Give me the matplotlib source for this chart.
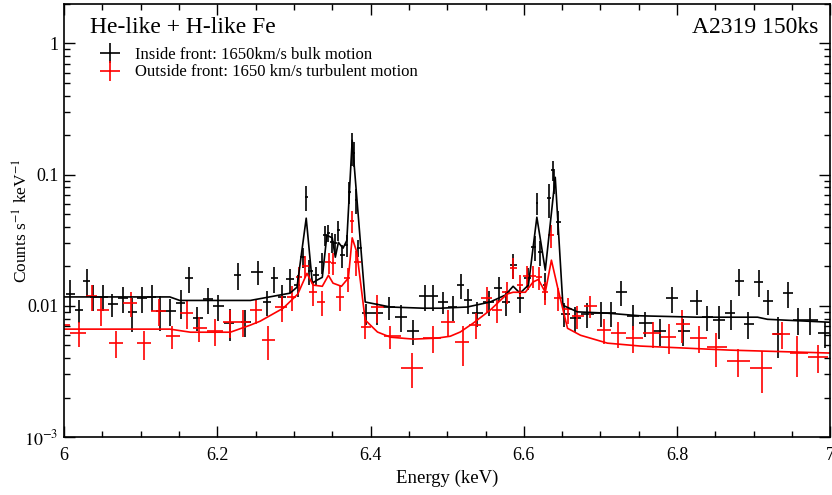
"""He-like + H-like Fe spectrum of A2319: two regions with models."""

import numpy as np
import matplotlib
matplotlib.use('Agg')
import matplotlib.pyplot as plt
from matplotlib.lines import Line2D
from matplotlib.ticker import MultipleLocator, LogLocator, NullFormatter

# Inside front (black) data: energy (keV), counts s^-1 keV^-1, 1-sigma error
in_energy = [6.008, 6.020, 6.030, 6.038, 6.051, 6.063, 6.077, 6.089, 6.102, 6.115,
             6.125, 6.138, 6.153, 6.163, 6.174, 6.188, 6.201, 6.217, 6.227, 6.236,
             6.253, 6.265, 6.274, 6.285, 6.295, 6.305, 6.312, 6.316, 6.320, 6.329,
             6.336, 6.341, 6.345, 6.350, 6.354, 6.358, 6.363, 6.369, 6.372, 6.376,
             6.379, 6.381, 6.384, 6.394, 6.409, 6.424, 6.440, 6.456, 6.471, 6.482,
             6.495, 6.508, 6.518, 6.527, 6.539, 6.555, 6.567, 6.577, 6.586, 6.595,
             6.606, 6.614, 6.617, 6.621, 6.628, 6.633, 6.638, 6.640, 6.644, 6.653,
             6.667, 6.683, 6.701, 6.714, 6.727, 6.742, 6.758, 6.778, 6.794, 6.808,
             6.826, 6.839, 6.855, 6.871, 6.881, 6.893, 6.907, 6.918, 6.932, 6.945,
             6.958, 6.974, 6.993]
in_rate = [0.0123, 0.00926, 0.0154, 0.0117, 0.0117, 0.0103, 0.0114, 0.00895, 0.0114, 0.0117,
           0.0091, 0.0091, 0.0105, 0.0162, 0.00808, 0.0112, 0.00992, 0.00741, 0.0171, 0.00753,
           0.0181, 0.0107, 0.0162, 0.0117, 0.0159, 0.0144, 0.0235, 0.0673, 0.0184, 0.0171,
           0.0215, 0.0345, 0.0358, 0.0306, 0.0300, 0.0377, 0.0243, 0.0290, 0.0734, 0.1617,
           0.1455, 0.0638, 0.0275, 0.0088, 0.0088, 0.00976, 0.00822, 0.00642, 0.0118, 0.0118,
           0.0107, 0.00976, 0.0144, 0.0110, 0.0088, 0.0107, 0.0136, 0.0107, 0.0204, 0.0114,
           0.0162, 0.0280, 0.0605, 0.0256, 0.0144, 0.0661, 0.1080, 0.0907, 0.0434, 0.00865,
           0.00808, 0.00865, 0.0088, 0.0088, 0.0127, 0.00836, 0.00741, 0.00642, 0.0114, 0.00642,
           0.0109, 0.00822, 0.00779, 0.0088, 0.0154, 0.00728, 0.0152, 0.0109, 0.00609, 0.0125,
           0.00779, 0.00779, 0.00619]
in_err = [0.0035, 0.0019, 0.0037, 0.0026, 0.0026, 0.0021, 0.0025, 0.0026, 0.0025, 0.0026,
          0.0027, 0.0021, 0.0026, 0.0036, 0.0017, 0.0025, 0.0022, 0.0020, 0.0040, 0.0017,
          0.0038, 0.0023, 0.0036, 0.0026, 0.0033, 0.0027, 0.0042, 0.0148, 0.0039, 0.0027,
          0.0040, 0.0061, 0.0053, 0.0054, 0.0053, 0.0067, 0.0050, 0.0055, 0.0140, 0.0460,
          0.0320, 0.0135, 0.0040, 0.0016, 0.0017, 0.0020, 0.0019, 0.0014, 0.0026, 0.0026,
          0.0020, 0.0021, 0.0032, 0.0024, 0.0019, 0.0023, 0.0029, 0.0023, 0.0043, 0.0025,
          0.0031, 0.0059, 0.0115, 0.0054, 0.0033, 0.0190, 0.0190, 0.0190, 0.0090, 0.0018,
          0.0018, 0.0019, 0.0019, 0.0019, 0.0027, 0.0018, 0.0016, 0.0015, 0.0025, 0.0015,
          0.0024, 0.0018, 0.0022, 0.0022, 0.0036, 0.0017, 0.0035, 0.0024, 0.0021, 0.0028,
          0.0018, 0.0018, 0.0014]

# Outside front (red) data
out_energy = [5.996, 6.020, 6.037, 6.048, 6.068, 6.087, 6.104, 6.124, 6.141, 6.161,
              6.176, 6.197, 6.217, 6.234, 6.251, 6.266, 6.285, 6.298, 6.307, 6.315,
              6.325, 6.336, 6.346, 6.351, 6.360, 6.371, 6.376, 6.381, 6.393, 6.409,
              6.426, 6.454, 6.482, 6.501, 6.520, 6.537, 6.552, 6.565, 6.578, 6.586,
              6.595, 6.604, 6.612, 6.620, 6.628, 6.636, 6.644, 6.657, 6.670, 6.687,
              6.704, 6.723, 6.743, 6.769, 6.789, 6.807, 6.828, 6.851, 6.880, 6.911,
              6.937, 6.957, 6.984]
out_rate = [0.00716, 0.00619, 0.0118, 0.00926, 0.00519, 0.0105, 0.00519, 0.0091, 0.00587, 0.0088,
            0.00677, 0.00642, 0.00753, 0.00753, 0.00926, 0.00547, 0.00976, 0.0117, 0.0165, 0.0200,
            0.0127, 0.0107, 0.0215, 0.0212, 0.0117, 0.0162, 0.0447, 0.0215, 0.0069, 0.00976,
            0.00587, 0.00335, 0.00567, 0.00753, 0.00528, 0.00716, 0.0114, 0.00926, 0.0127, 0.0196,
            0.0144, 0.0168, 0.0168, 0.0165, 0.0127, 0.0345, 0.0114, 0.0094, 0.00836, 0.00992,
            0.00653, 0.00619, 0.00567, 0.00619, 0.00577, 0.00728, 0.00567, 0.00484, 0.00379, 0.00335,
            0.00609, 0.00437, 0.00407]
out_err = [0.0016, 0.0013, 0.0026, 0.0022, 0.0012, 0.0023, 0.0013, 0.0021, 0.0012, 0.0021,
           0.0015, 0.0015, 0.0018, 0.0017, 0.0020, 0.0016, 0.0022, 0.0025, 0.0032, 0.0038,
           0.0027, 0.0023, 0.0040, 0.0040, 0.0026, 0.0034, 0.0085, 0.0045, 0.0013, 0.0023,
           0.0012, 0.0010, 0.0013, 0.0017, 0.0018, 0.0016, 0.0025, 0.0019, 0.0024, 0.0037,
           0.0027, 0.0032, 0.0032, 0.0032, 0.0026, 0.0068, 0.0023, 0.0021, 0.0017, 0.0019,
           0.0014, 0.0014, 0.0013, 0.0014, 0.0015, 0.0021, 0.0013, 0.0014, 0.0009, 0.0012,
           0.0014, 0.0015, 0.0010]

# Folded models
in_model_e = [6.000, 6.138, 6.151, 6.243, 6.295, 6.304, 6.316, 6.324, 6.330, 6.337,
              6.343, 6.350, 6.354, 6.358, 6.364, 6.369, 6.376, 6.393, 6.426, 6.469,
              6.491, 6.526, 6.556, 6.576, 6.586, 6.595, 6.606, 6.617, 6.628, 6.641,
              6.651, 6.670, 6.709, 6.752, 6.826, 6.905, 6.918, 7.000]
in_model = [0.0117, 0.0117, 0.0110, 0.0110, 0.0125, 0.0139, 0.0466, 0.0149, 0.0157, 0.0165,
            0.0345, 0.0330, 0.0235, 0.0305, 0.0275, 0.0315, 0.183, 0.0107, 0.0098, 0.0096,
            0.0096, 0.0098, 0.0107, 0.0121, 0.0141, 0.0125, 0.0144, 0.0474, 0.0187, 0.0955,
            0.0101, 0.0090, 0.0088, 0.0084, 0.0082, 0.0082, 0.0079, 0.0075]
out_model_e = [6.000, 6.138, 6.165, 6.217, 6.243, 6.256, 6.286, 6.305, 6.317, 6.325,
               6.337, 6.345, 6.351, 6.362, 6.371, 6.376, 6.382, 6.393, 6.409, 6.426,
               6.456, 6.487, 6.504, 6.517, 6.534, 6.556, 6.578, 6.586, 6.602, 6.612,
               6.619, 6.628, 6.636, 6.644, 6.657, 6.674, 6.709, 6.752, 6.869, 7.000]
out_model = [0.00665, 0.00665, 0.0063, 0.0063, 0.00713, 0.00765, 0.0096, 0.0123, 0.0177, 0.0144,
             0.0141, 0.0171, 0.0149, 0.0141, 0.0163, 0.0330, 0.0257, 0.0078, 0.00632, 0.00577,
             0.00558, 0.00568, 0.00587, 0.00632, 0.00739, 0.00927, 0.0123, 0.0127, 0.0127, 0.0152,
             0.0159, 0.0127, 0.0223, 0.0139, 0.00675, 0.00597, 0.0052, 0.00494, 0.0046, 0.00437]


def half_widths(energy):
    """Half bin widths from contiguous bins (edges at midpoints)."""
    e = np.asarray(energy)
    mid = (e[1:] + e[:-1]) / 2
    edges = np.concatenate([[2 * e[0] - mid[0]], mid, [2 * e[-1] - mid[-1]]])
    return np.vstack([e - edges[:-1], edges[1:] - e])


plt.rcParams['font.family'] = ['Liberation Serif', 'DejaVu Serif']
plt.rcParams['mathtext.fontset'] = 'stix'

fig = plt.figure(figsize=(8.32, 4.95), dpi=100)
ax = fig.add_axes([0.077, 0.117, 0.921, 0.875])

ax.errorbar(in_energy, in_rate, xerr=half_widths(in_energy), yerr=in_err,
            fmt='none', ecolor='black', elinewidth=1.2, capsize=0)
ax.errorbar(out_energy, out_rate, xerr=half_widths(out_energy), yerr=out_err,
            fmt='none', ecolor='red', elinewidth=1.2, capsize=0)
ax.plot(in_model_e, in_model, color='black', lw=1.2)
ax.plot(out_model_e, out_model, color='red', lw=1.2)

ax.set_yscale('log')
ax.set_xlim(6, 7)
ax.set_ylim(1e-3, 2)
ax.set_yticks([1e-3, 1e-2, 0.1, 1])
ax.set_yticklabels(['$10^{-3}$', '0.01', '0.1', '1'])
ax.yaxis.set_minor_locator(LogLocator(base=10, subs=np.arange(2, 10)))
ax.yaxis.set_minor_formatter(NullFormatter())
ax.xaxis.set_minor_locator(MultipleLocator(0.05))
ax.set_xticks([6, 6.2, 6.4, 6.6, 6.8, 7])
ax.set_xticklabels(['6', '6.2', '6.4', '6.6', '6.8', '7'])
ax.tick_params(which='both', direction='in', top=True, right=True, labelsize=13)
ax.tick_params(which='major', length=8, width=1)
ax.tick_params(which='minor', length=4, width=1)
ax.tick_params(axis='y', which='major', pad=4)
ax.tick_params(axis='x', which='major', pad=7)
for s in ax.spines.values():
    s.set_linewidth(1.2)

ax.set_xlabel('Energy (keV)', fontsize=13.5)
ax.xaxis.set_label_coords(0.5, -0.076)
ax.set_ylabel('Counts s$^{-1}$ keV$^{-1}$', fontsize=12.5)
ax.yaxis.set_label_coords(-0.042, 0.5)

ax.text(0.034, 0.945, 'He-like + H-like Fe', transform=ax.transAxes,
        fontsize=17, va='center', ha='left')
ax.text(0.984, 0.945, 'A2319 150ks', transform=ax.transAxes,
        fontsize=17, va='center', ha='right')

handles = [
    Line2D([], [], color='black', marker='+', markersize=15, markeredgewidth=1.2, ls='none'),
    Line2D([], [], color='red', marker='+', markersize=15, markeredgewidth=1.2, ls='none'),
]
ax.legend(handles, ['Inside front: 1650km/s bulk motion',
                    'Outside front: 1650 km/s turbulent motion'],
          loc='upper left', bbox_to_anchor=(0.03, 0.928), frameon=False,
          fontsize=12, handlelength=1.4, handletextpad=0.8, labelspacing=0.1,
          borderpad=0.2)

fig.savefig('out.png', dpi=100)
